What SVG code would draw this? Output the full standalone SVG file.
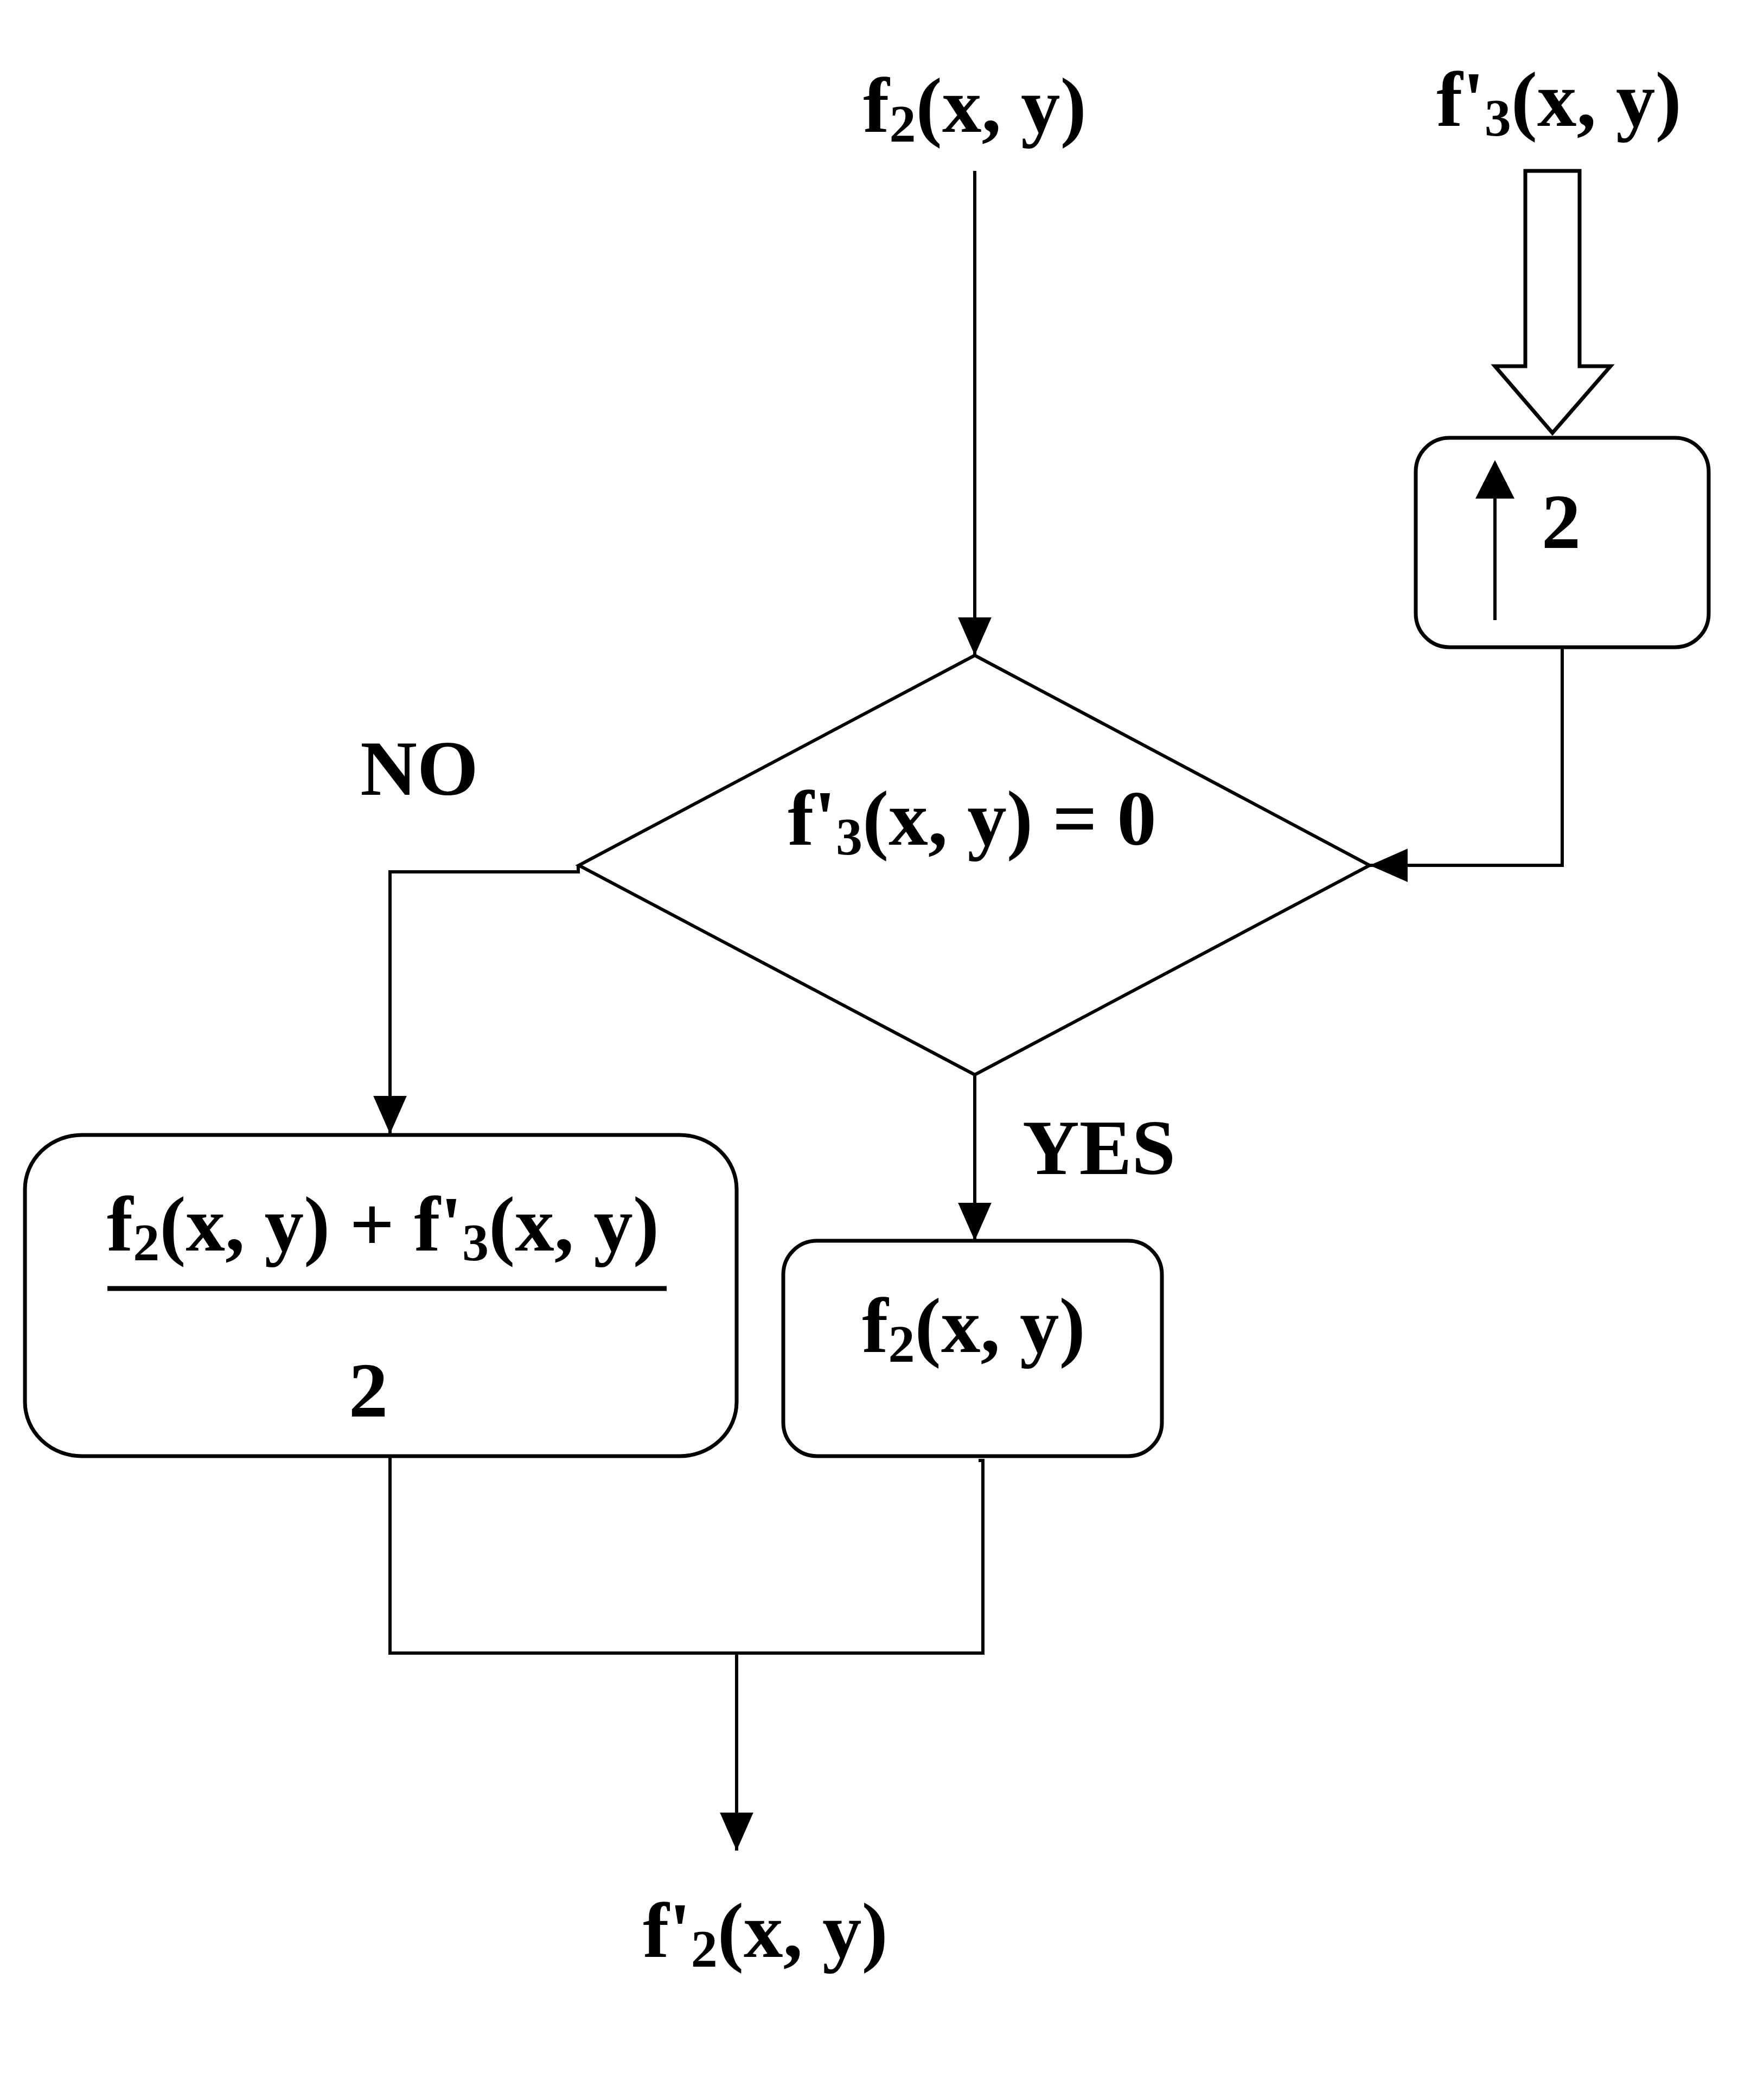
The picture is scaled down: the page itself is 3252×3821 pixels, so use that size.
<svg xmlns="http://www.w3.org/2000/svg" width="3252" height="3821" viewBox="0 0 3252 3821">
<style>
  .t { font-family: "Liberation Serif", "Times New Roman", serif; font-weight: bold; font-size: 145px; fill: #000; text-anchor: middle; }
  .sub { font-size: 98px; }
  .ln { fill: none; stroke: #000; stroke-width: 6; }
  .box { fill: #fff; stroke: #000; stroke-width: 7; }
</style>
<defs>
  <marker id="ah" markerUnits="userSpaceOnUse" markerWidth="70" markerHeight="80" refX="75" refY="33" orient="auto" viewBox="0 0 75 66">
    <path d="M0,0 L75,33 L0,66 Z" fill="#000"/>
  </marker>
</defs>
<rect width="3252" height="3821" fill="#fff"/>

<g id="connectors">
  <path class="ln" d="M1797,315 V1208" marker-end="url(#ah)"/>
  <path class="ln" d="M2880,1193 V1595 H2525" marker-end="url(#ah)"/>
  <path class="ln" d="M1066,1595 V1607 H719 V2090" marker-end="url(#ah)"/>
  <path class="ln" d="M1797,1981 V2287" marker-end="url(#ah)"/>
  <path class="ln" d="M719,2684 V3047 H1812 V2692 H1804"/>
  <path class="ln" d="M1358,3047 V3411" marker-end="url(#ah)"/>
  <polygon points="2812,315 2912,315 2912,675 2969,675 2862,798 2756,675 2812,675" fill="#fff" stroke="#000" stroke-width="7"/>
</g>

<g id="input-f2">
  <text class="t" x="1797" y="243">f<tspan class="sub" dy="18">2</tspan><tspan dy="-18">(x, y)</tspan></text>
</g>

<g id="input-f3">
  <text class="t" x="2874" y="232">f'<tspan class="sub" dy="18">3</tspan><tspan dy="-18">(x, y)</tspan></text>
</g>

<g id="upsample">
  <rect class="box" x="2610" y="807" width="540" height="386" rx="62" ry="62"/>
  <path class="ln" d="M2756,1143 V900"/>
  <path d="M2720,919 L2756,848 L2792,919 Z" fill="#000"/>
  <text class="t" x="2878" y="1010">2</text>
</g>

<g id="decision">
  <polygon points="1797,1208 2525,1595 1797,1981 1067,1595" fill="#fff" stroke="#000" stroke-width="6"/>
  <text class="t" x="1792" y="1557">f'<tspan class="sub" dy="18">3</tspan><tspan dy="-18">(x, y) = 0</tspan></text>
</g>

<g id="label-no">
  <text class="t" x="773" y="1465">NO</text>
</g>

<g id="label-yes">
  <text class="t" x="2026" y="2164">YES</text>
</g>

<g id="average">
  <rect class="box" x="46" y="2092" width="1312" height="592" rx="105" ry="100"/>
  <text class="t" x="706" y="2305">f<tspan class="sub" dy="18">2</tspan><tspan dy="-18">(x, y) + f'</tspan><tspan class="sub" dy="18">3</tspan><tspan dy="-18">(x, y)</tspan></text>
  <line x1="198" y1="2375" x2="1229" y2="2375" stroke="#000" stroke-width="9"/>
  <text class="t" x="679" y="2611">2</text>
</g>

<g id="passthrough">
  <rect class="box" x="1444" y="2287" width="698" height="397" rx="62" ry="62"/>
  <text class="t" x="1795" y="2492">f<tspan class="sub" dy="18">2</tspan><tspan dy="-18">(x, y)</tspan></text>
</g>

<g id="output-f2">
  <text class="t" x="1411" y="3607">f'<tspan class="sub" dy="18">2</tspan><tspan dy="-18">(x, y)</tspan></text>
</g>
</svg>
